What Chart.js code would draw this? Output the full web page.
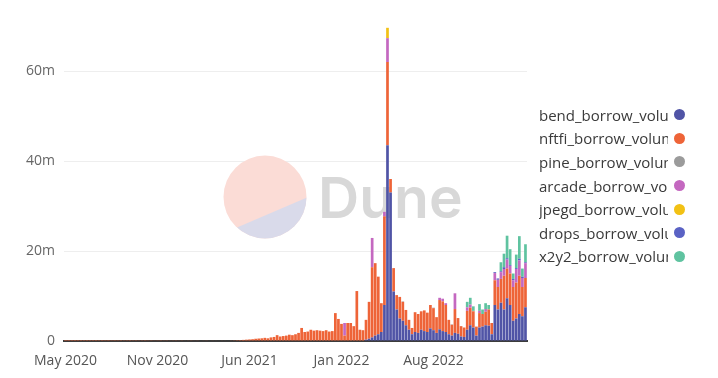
<!DOCTYPE html>
<html>
<head>
<meta charset="utf-8">
<script src="https://cdn.jsdelivr.net/npm/chart.js@4.4.1/dist/chart.umd.min.js"></script>
<style>
  html, body { margin: 0; padding: 0; background: #fff; }
  #wrap { position: relative; width: 718px; height: 378px; }
  #legend { position: absolute; left: 539px; top: 103px; font-family: 'Open Sans', sans-serif; font-size: 15px; color: #3a3a3a; }
  .item { display: flex; align-items: center; height: 23.6px; }
  .item .txt { width: 129px; overflow: hidden; white-space: nowrap; }
  .item .dot { width: 11px; height: 11px; border-radius: 50%; margin-left: 6px; }
</style>
</head>
<body>
<div id="wrap">
  <canvas id="chart" width="718" height="378"></canvas>
  <div id="legend"></div>
</div>
<script>
// weekly borrow volume in millions USD, first week 2020-05-04
const seriesNames = ['bend_borrow_volume', 'nftfi_borrow_volume', 'pine_borrow_volume', 'arcade_borrow_volume',
  'jpegd_borrow_volume', 'drops_borrow_volume', 'x2y2_borrow_volume'];
const seriesColors = ['#5054a6', '#ee6438', '#9b9b9b', '#c468c0', '#f2c114', '#5a62c4', '#5fc3a0'];
const tickLabels = ['May 2020', 'Nov 2020', 'Jun 2021', 'Jan 2022', 'Aug 2022'];

const bend = [
  0,0,0,0,0,0,0,0,0,0, 0,0,0,0,0,0,0,0,0,0, 0,0,0,0,0,0,0,0,0,0, 0,0,0,0,0,0,0,0,0,0,
  0,0,0,0,0,0,0,0,0,0, 0,0,0,0,0,0,0,0,0,0, 0,0,0,0,0,0,0,0,0,0, 0,0,0,0,0,0,0,0,0,0,
  0,0,0,0,0,0,0,0,0,0, 0,0,0,0,0,0,0,0,0.3,0.5,
  0.8,1.2,1.5,2.0,8,43.5,33,11,7,5, 4.5,3.5,2.5,1.5,2.0,1.8,2.5,2.2,2.0,2.8,
  2.4,1.8,2.6,2.2,2.0,1.5,1.2,1.8,1.6,1.0, 0.9,2.5,3.5,3.0,1.2,3.0,3.2,3.5,3.4,1.5,
  8.0,7.0,8.5,7.0,9.5,8.0,4.5,5.0,6.0,5.5,7.5
];
const nftfi = [
  0.01,0.01,0.02,0.01,0.02,0.02,0.03,0.02,0.03,0.03, 0.02,0.04,0.03,0.04,0.03,0.05,0.04,0.05,0.04,0.06,
  0.05,0.04,0.06,0.05,0.07,0.06,0.05,0.07,0.06,0.08, 0.07,0.06,0.08,0.07,0.09,0.08,0.07,0.09,0.08,0.1,
  0.09,0.08,0.1,0.09,0.11,0.1,0.09,0.11,0.1,0.12, 0.11,0.1,0.12,0.11,0.13,0.15,0.18,0.2,0.25,0.3,
  0.35,0.4,0.5,0.55,0.6,0.7,0.6,0.8,0.9,1.3, 1.0,1.1,1.2,1.4,1.3,1.5,1.8,2.9,2.0,2.1,
  2.5,2.3,2.4,2.3,2.2,2.4,2.1,2.2,6.2,4.9, 3.8,1.2,4.0,4.0,3.3,11.1,2.5,2.4,4.4,8.2,
  15.6,16.1,12.8,6.4,19.7,18.5,3.0,5.2,3.2,4.8, 4.2,3.4,2.2,1.4,4.4,4.2,4.1,4.6,4.3,5.2,
  4.9,3.5,6.5,6.6,6.0,3.2,2.4,5.3,3.5,2.3, 2.1,4.2,3.9,3.6,2.0,3.2,2.8,3.0,3.6,2.5,
  5.5,5.0,5.3,7.5,6.6,7.0,7.5,8.0,8.5,6.5,6.5
];
const pine = [
  0,0,0,0,0,0,0,0,0,0, 0,0,0,0,0,0,0,0,0,0, 0,0,0,0,0,0,0,0,0,0, 0,0,0,0,0,0,0,0,0,0,
  0,0,0,0,0,0,0,0,0,0, 0,0,0,0,0,0,0,0,0,0, 0,0,0,0,0,0,0,0,0,0, 0,0,0,0,0,0,0,0,0,0,
  0,0,0,0,0,0,0,0,0,0, 0,0,0,0,0,0,0,0,0,0, 0,0,0,0,0,0,0,0,0,0, 0.1,0,0,0,0,0,0,0,0,0,
  0.1,0,0,0,0,0,0.1,0,0,0, 0,0,0,0.1,0,0,0,0,0,0, 0,0,0,0,0,0,0,0,0,0,0
];
const arcade = [
  0,0,0,0,0,0,0,0,0,0, 0,0,0,0,0,0,0,0,0,0, 0,0,0,0,0,0,0,0,0,0, 0,0,0,0,0,0,0,0,0,0,
  0,0,0,0,0,0,0,0,0,0, 0,0,0,0,0,0,0,0,0,0, 0,0,0,0,0,0,0,0,0,0, 0,0,0,0,0,0,0,0,0,0,
  0,0,0,0,0,0,0,0,0,0, 0,2.8,0,0,0,0,0,0,0,0,
  6.5,0,0,0,1.0,5.3,0,0,0,0, 0,0,0,0,0,0,0,0,0,0,
  0,0,0.5,0.6,0.4,0,0,3.5,0,0, 0,0.8,0.7,0,0,0.5,0,0.6,0,0,
  1.6,1.6,1.5,1.5,2.0,1.7,1.5,3.0,3.4,2.0,3.3
];
const jpegd = [
  0,0,0,0,0,0,0,0,0,0, 0,0,0,0,0,0,0,0,0,0, 0,0,0,0,0,0,0,0,0,0, 0,0,0,0,0,0,0,0,0,0,
  0,0,0,0,0,0,0,0,0,0, 0,0,0,0,0,0,0,0,0,0, 0,0,0,0,0,0,0,0,0,0, 0,0,0,0,0,0,0,0,0,0,
  0,0,0,0,0,0,0,0,0,0, 0,0,0,0,0,0,0,0,0,0,
  0,0,0,0,0,2.3,0,0,0,0, 0,0,0,0,0,0,0,0,0,0,
  0,0,0,0,0,0,0,0,0,0, 0,0,0,0,0,0,0,0,0,0, 0,0,0,0,0,0,0,0,0,0,0
];
const drops = [
  0,0,0,0,0,0,0,0,0,0, 0,0,0,0,0,0,0,0,0,0, 0,0,0,0,0,0,0,0,0,0, 0,0,0,0,0,0,0,0,0,0,
  0,0,0,0,0,0,0,0,0,0, 0,0,0,0,0,0,0,0,0,0, 0,0,0,0,0,0,0,0,0,0, 0,0,0,0,0,0,0,0,0,0,
  0,0,0,0,0,0,0,0,0,0, 0,0,0,0,0,0,0,0,0,0,
  0,0,0,0,0,0,0,0,0,0, 0,0,0,0,0,0,0,0,0,0,
  0,0,0,0,0,0,0,0,0,0, 0,0,0,0,0,0,0,0,0,0,
  0.2,0.3,0.2,0.4,0.3,0.2,0.3,0.2,0.4,0.3,0.2
];
const x2y2 = [
  0,0,0,0,0,0,0,0,0,0, 0,0,0,0,0,0,0,0,0,0, 0,0,0,0,0,0,0,0,0,0, 0,0,0,0,0,0,0,0,0,0,
  0,0,0,0,0,0,0,0,0,0, 0,0,0,0,0,0,0,0,0,0, 0,0,0,0,0,0,0,0,0,0, 0,0,0,0,0,0,0,0,0,0,
  0,0,0,0,0,0,0,0,0,0, 0,0,0,0,0,0,0,0,0,0,
  0,0,0,0,0,0,0,0,0,0, 0,0,0,0,0,0,0,0,0,0,
  0,0,0,0,0,0,0,0,0,0, 0,1.2,1.5,1.0,0,1.5,1.0,1.3,1.0,0,
  0,0,2.0,3.0,5.0,3.5,1.2,3.0,5.0,1.8,4.0
];

const seriesValues = [bend, nftfi, pine, arcade, jpegd, drops, x2y2];

// one label per week
const weeks = [];
const start = new Date(Date.UTC(2020, 4, 4));
for (let i = 0; i < bend.length; i++) {
  const d = new Date(start.getTime() + i * 7 * 86400000);
  weeks.push(d.toISOString().slice(0, 10));
}

// faint Dune logo behind the bars
const watermark = {
  id: 'watermark',
  beforeDatasetsDraw(chart) {
    const ctx = chart.ctx;
    ctx.save();
    ctx.beginPath();
    ctx.arc(265, 197, 41.5, 0, Math.PI * 2);
    ctx.clip();
    ctx.fillStyle = '#fbdcd6';
    ctx.fillRect(220, 150, 95, 95);
    ctx.beginPath();
    ctx.moveTo(215, 237);
    ctx.lineTo(320, 192);
    ctx.lineTo(320, 250);
    ctx.lineTo(215, 250);
    ctx.closePath();
    ctx.fillStyle = '#d9daea';
    ctx.fill();
    ctx.restore();

    ctx.save();
    ctx.fillStyle = '#d8d8d8';
    ctx.font = '600 57px Inter, sans-serif';
    ctx.textBaseline = 'alphabetic';
    ctx.fillText('Dune', 318, 218);
    ctx.restore();
  }
};

const datasets = seriesNames.map((name, i) => ({
  label: name,
  data: seriesValues[i],
  backgroundColor: seriesColors[i],
  borderWidth: 0,
  barPercentage: 0.88,
  categoryPercentage: 1
}));

new Chart(document.getElementById('chart'), {
  type: 'bar',
  data: { labels: weeks, datasets: datasets },
  plugins: [watermark],
  options: {
    responsive: false,
    animation: false,
    layout: { padding: { top: 26, right: 191, bottom: 0, left: 0 } },
    plugins: {
      legend: { display: false },
      tooltip: { enabled: false }
    },
    scales: {
      x: {
        stacked: true,
        grid: { display: false },
        border: { color: '#3c3c3c', width: 2 },
        afterFit(scale) { scale.height = 37; },
        ticks: {
          autoSkip: false,
          maxRotation: 0,
          padding: 4,
          color: '#555',
          font: { family: "'Open Sans', sans-serif", size: 14 },
          callback: (val, index) => index % 30 === 0 ? tickLabels[index / 30] : null
        }
      },
      y: {
        stacked: true,
        min: 0,
        max: 70,
        afterFit(scale) { scale.width = 64; },
        afterBuildTicks(scale) {
          scale.ticks = [0, 20, 40, 60].map(v => ({ value: v }));
        },
        grid: { color: '#eeeeee', drawTicks: false },
        border: { display: false },
        ticks: {
          padding: 9,
          color: '#666',
          font: { family: "'Open Sans', sans-serif", size: 14 },
          callback: v => v === 0 ? '0' : v + 'm'
        }
      }
    }
  }
});

// legend on the right, names clipped like the original
const legend = document.getElementById('legend');
seriesNames.forEach((name, i) => {
  const row = document.createElement('div');
  row.className = 'item';
  row.innerHTML = `<span class="txt">${name}</span><span class="dot" style="background:${seriesColors[i]}"></span>`;
  legend.appendChild(row);
});
</script>
</body>
</html>
